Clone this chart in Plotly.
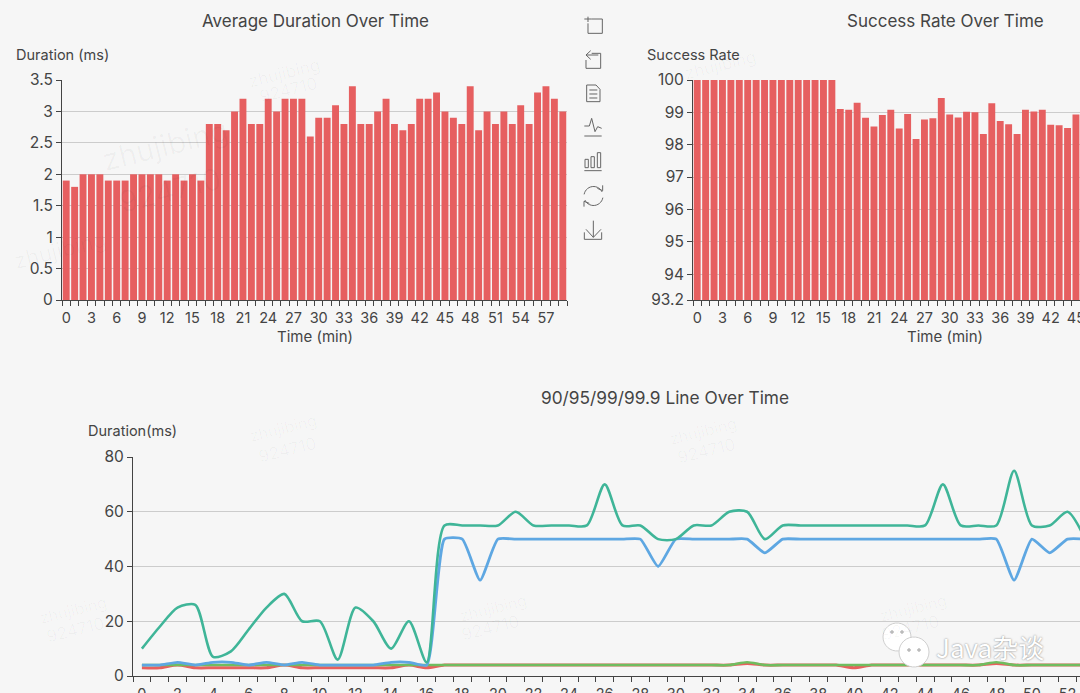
import math
import plotly.graph_objects as go

W, H = 1080, 693
FONT = "Inter"
INK = "#444444"
BG = "#f6f6f6"

minutes = list(range(60))
avg_duration = [1.9,1.8,2,2,2,1.9,1.9,1.9,2,2,2,2,1.9,2,1.9,2,1.9,2.8,2.8,2.7,3,3.2,2.8,2.8,3.2,3,3.2,3.2,3.2,2.6,
                2.9,2.9,3.1,2.8,3.4,2.8,2.8,3,3.2,2.8,2.7,2.8,3.2,3.2,3.3,3,2.9,2.8,3.4,2.7,3,2.8,3,2.8,3.1,2.8,3.3,3.4,3.2,3]
rate_minutes = list(range(46))
success_rate = [100]*17 + [99.1,99.08,99.3,98.83,98.56,98.92,99.08,98.5,98.95,98.18,98.78,98.82,99.44,98.93,98.84,
                           99.02,99.0,98.33,99.28,98.73,98.63,98.33,99.08,99.03,99.08,98.62,98.6,98.52,98.93]
line_minutes = list(range(54))
line_999 = [10,18,25,26,7,9,17,25,30,20,20,6,25,20,10,20,5,55,55,55,55,60,55,55,55,55,70,55,55,50,50,55,55,60,60,50,55,55,55,55,55,55,55,55,55,70,55,55,55,75,55,55,60,50]
line_99 = [4,4,5,4,5,5,4,5,4,5,4,4,4,4,5,5,4,50,50,35,50,50,50,50,50,50,50,50,50,40,50,50,50,50,50,45,50,50,50,50,50,50,50,50,50,50,50,50,50,35,50,45,50,50]
line_95 = [4]*34 + [5] + [4]*13 + [5] + [4]*5
line_90 = [3,3,4,3,3,3,3,3,4,3,3,3,3,3,3,4,3,4,4,4,4,4,4,4,4,4,4,4,4,4,4,4,4,4,4.6,4,4,4,4,4,3,4,4,4,4,4,4,4,4.6,4,4,4,4,4]

watermarks = [("zhujibing",284,73,17),("924710",288,90,17),("zhujibing",165,145,30),("924710",170,190,30),
              ("zhujibing",60,250,22),("zhujibing",720,65,17),("zhujibing",283,428,16),("924710",287,450,17),
              ("zhujibing",703,431,16),("924710",706,451,17),("zhujibing",73,610,16),("924710",75,630,17),
              ("zhujibing",493,608,16),("924710",490,628,17),("zhujibing",913,608,16),("924710",910,628,17)]


def px(x):
    return x / W


def py(y):
    return 1 - y / H


fig = go.Figure()
BAR = "#e65f60"
fig.add_bar(x=minutes, y=avg_duration, marker=dict(color=BAR, line_width=0), xaxis="x", yaxis="y", showlegend=False)
fig.add_bar(x=rate_minutes, y=success_rate, marker=dict(color=BAR, line_width=0), xaxis="x2", yaxis="y2", showlegend=False)
for ys, col, w, sm in ((line_90, "#e8605e", 3, 0.75), (line_95, "#6fbd5f", 2.6, 0.75), (line_99, "#5ea7e2", 2.8, 0.5), (line_999, "#3fb598", 2.6, 0.75)):
    fig.add_scatter(x=line_minutes, y=ys, mode="lines", line=dict(color=col, width=w, shape="spline", smoothing=sm),
                    xaxis="x3", yaxis="y3", showlegend=False)


def xaxis(x0, x1, rng, dtick, anchor):
    return dict(domain=[px(x0), px(x1)], range=rng, anchor=anchor, automargin=False, tick0=0, dtick=dtick, ticks="", showgrid=False, zeroline=False,
                showline=True, linecolor=INK, linewidth=1, ticklabelstandoff=5, ticklabeloverflow="allow",
                tickfont=dict(family=FONT, size=14.5, color=INK),
                minor=dict(tick0=-0.5, dtick=1, ticks="outside", ticklen=5, tickcolor=INK, tickwidth=1, showgrid=False))


def yaxis(y0, y1, rng, vals, texts, anchor):
    return dict(domain=[py(y0), py(y1)], range=rng, anchor=anchor, automargin=False, tickvals=vals, ticktext=texts, ticks="outside", ticklen=5,
                tickcolor=INK, showgrid=True, gridcolor="#cccccc", gridwidth=1, zeroline=False, showline=True,
                linecolor=INK, linewidth=1, tickfont=dict(family=FONT, size=15.5, color=INK))


cw1 = 505 / 60
cw3 = 17.8
fig.update_layout(
    width=W, height=H, margin=dict(l=0, r=0, t=0, b=0), paper_bgcolor=BG, plot_bgcolor=BG, barmode="overlay", bargap=0.18,
    xaxis=xaxis(62, 567, [-0.5, 59.5], 3, "y"),
    yaxis=yaxis(300, 80, [0, 3.5], [0,0.5,1,1.5,2,2.5,3,3.5], ["0","0.5","1","1.5","2","2.5","3","3.5"], "x"),
    xaxis2=xaxis(693, 1080, [-0.5, -0.5 + 387 / cw1], 3, "y2"),
    yaxis2=yaxis(300, 80, [93.2, 100], [93.2,94,95,96,97,98,99,100], ["93.2","94","95","96","97","98","99","100"], "x2"),
    xaxis3=xaxis(133, 1080, [-0.5, -0.5 + 947 / cw3], 2, "y3"),
    yaxis3=yaxis(676, 457, [0, 80], [0,20,40,60,80], ["0","20","40","60","80"], "x3"),
)

anns = []


def text(s, x, y, size, color=INK, angle=0, **kw):
    anns.append(dict(text=s, x=px(x), y=py(y), xref="paper", yref="paper", showarrow=False, xanchor="center", yanchor="middle",
                     textangle=angle, font=dict(family=kw.get("family", FONT), size=size, color=color, **kw.get("extra", {}))))


for s, x, y, size in watermarks:
    text(s, x, y, size, color="rgba(0,0,0,0.03)", angle=-14)
text("Average Duration Over Time", 315, 21, 17)
text("Success Rate Over Time", 945, 21, 17)
text("90/95/99/99.9 Line Over Time", 665, 397, 17.3)
text("Duration (ms)", 62, 54, 14.5)
text("Success Rate", 693, 54, 14.5)
text("Duration(ms)", 132, 430, 14.5)
text("Time (min)", 315, 337, 15)
text("Time (min)", 945, 337, 15)
text("Java杂谈", 990, 646, 26, color="#ffffff", family="Noto Sans CJK SC", extra=dict(shadow="0px 0px 2px #777"))

shapes = []


def poly(points, color="#666666", width=1, fill=None, closed=False):
    d = "M " + " L ".join(f"{px(a):.5f},{py(b):.5f}" for a, b in points) + (" Z" if closed else "")
    s = dict(type="path", xref="paper", yref="paper", path=d, line=dict(color=color, width=width))
    if fill:
        s["fillcolor"] = fill
    shapes.append(s)


def zp(points):
    return [(300 + a / 3, b / 3) for a, b in points]


def arc(cx, cy, r, a0, a1, n=14):
    return [(cx + r * math.cos(math.radians(a0 + (a1 - a0) * i / n)), cy + r * math.sin(math.radians(a0 + (a1 - a0) * i / n))) for i in range(n + 1)]


for seg in (
    [(875,57),(907,57),(907,100),(864,100),(864,70)], [(853,57),(875,57)], [(864,50),(864,66)],
    [(875,160),(902,160),(902,205),(858,205),(858,180)], [(858,165),(895,165)], [(872,152),(858,165),(872,178)],
    [(860,255),(888,255),(900,268),(900,305),(860,305),(860,255)], [(868,270),(892,270)], [(868,282),(892,282)], [(868,294),(892,294)],
    [(853,408),(905,408)], [(853,378),(868,378),(875,355),(885,395),(893,380),(905,385)],
    [(853,512),(905,512)], [(855,478),(865,478),(865,503),(855,503),(855,478)], [(873,470),(883,470),(883,503),(873,503),(873,470)], [(892,458),(902,458),(902,503),(892,503),(892,458)],
    [(880,662),(880,712)], [(858,688),(880,712),(903,688)], [(853,697),(853,718),(905,718),(905,697)],
):
    poly(zp(seg))
poly(arc(593.5, 196, 9.5, 190, 335))
poly(arc(593.5, 196, 9.5, 10, 155))
poly(zp([(892,565),(908,572),(908,556)]))
poly(zp([(868,610),(852,604),(852,620)]))

# WeChat mark
poly(arc(897, 637, 14, 0, 360, 30), color="#cfcfcf", fill="#ffffff", closed=True)
poly(arc(914, 652, 15, 0, 360, 30), color="#cfcfcf", fill="#ffffff", closed=True)
for ex, ey in ((892, 632), (902, 632), (909, 650), (919, 650)):
    poly(arc(ex, ey, 1.4, 0, 360, 10), color="#bbbbbb", fill="#bbbbbb", closed=True)

fig.update_layout(annotations=anns, shapes=shapes)
fig.write_html("out.html", config=dict(displayModeBar=False), post_script="document.body.style.margin='0';document.body.style.overflow='hidden';")
